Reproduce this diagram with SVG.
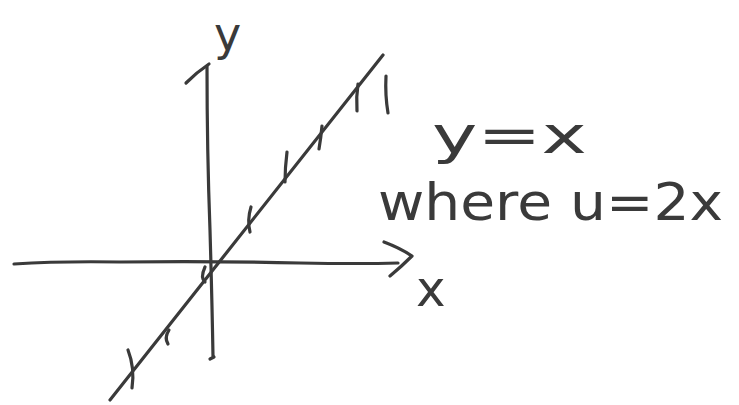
<svg xmlns="http://www.w3.org/2000/svg" width="739" height="405" viewBox="0 0 739 405">
<style>
.s{fill:none;stroke:#3a3a3a;stroke-width:3.2;stroke-linecap:round;stroke-linejoin:round}
.t{font-family:"DejaVu Sans",sans-serif;fill:#3a3a3a;font-weight:normal}
</style>
<rect width="739" height="405" fill="#ffffff"/>
<g id="x-axis">
<path class="s" d="M14,264 Q60,261 120,262 Q220,261 300,263 Q360,264 398,263"/>
<path class="s" d="M384,242 Q400,248 412,256 Q402,266 390,276"/>
<text class="t" x="416" y="306" font-size="50">x</text>
</g>
<g id="y-axis">
<path class="s" d="M213,356 Q212,300 210,230 Q207,150 207,66"/>
<path class="s" d="M186,83 Q197,72 209,64"/>
<path class="s" d="M210,359 L214,357"/>
<text class="t" x="214" y="50" font-size="46">y</text>
</g>
<g id="line">
<path class="s" d="M110,400 L383,55"/>
<path class="s" d="M128,350 Q135,368 132,388"/>
<path class="s" d="M169,330 Q164,338 168,344"/>
<path class="s" d="M205,267 Q200,278 205,282"/>
<path class="s" d="M251,207 Q247,220 250,232"/>
<path class="s" d="M287,152 Q285,168 285,182"/>
<path class="s" d="M322,126 Q321,137 319,149"/>
<path class="s" d="M358,84 Q356,97 357,111"/>
<path class="s" d="M386,76 Q385,95 388,113"/>
</g>
<g id="labels">
<text class="t" x="432" y="153" font-size="52" textLength="155" lengthAdjust="spacingAndGlyphs">y=x</text>
<text class="t" x="378" y="220" font-size="52" textLength="345" lengthAdjust="spacingAndGlyphs">where  u=2x</text>
</g>
</svg>
